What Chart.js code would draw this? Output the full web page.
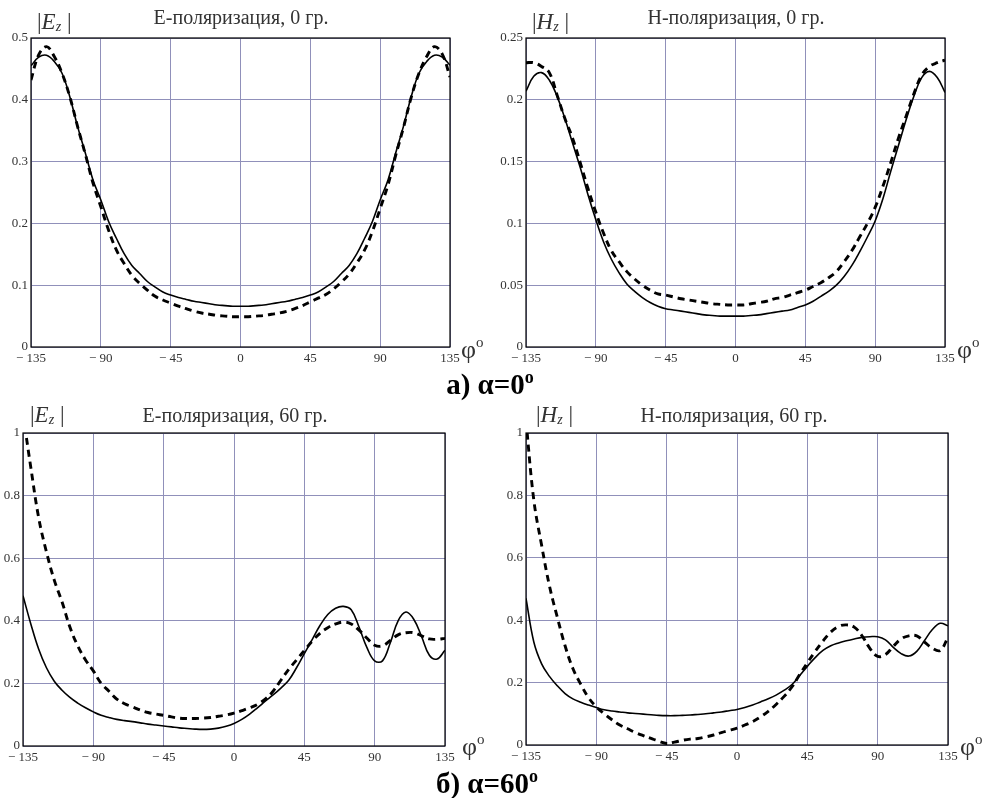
<!DOCTYPE html>
<html>
<head>
<meta charset="utf-8">
<script src="https://cdn.jsdelivr.net/npm/chart.js@4.4.0/dist/chart.umd.min.js"></script>
<style>
  body { margin: 0; background: #fff; width: 987px; height: 798px; position: relative; overflow: hidden;
         font-family: "Liberation Serif", "DejaVu Serif", serif; }
  .box { position: absolute; }
  .lbl { position: absolute; white-space: nowrap; color: #222; line-height: 1; }
  .ttl { font-size: 20px; transform: translateX(-50%); color: #333; }
  .qty { font-size: 23px; color: #333; }
  .qty i { font-style: italic; }
  .qty sub { font-size: 14px; vertical-align: -2px; }
  .phi { font-size: 26px; color: #333; }
  .phi sup { font-size: 15px; vertical-align: 11px; }
  .cap { font-size: 29px; font-weight: bold; color: #000; transform: translateX(-50%); }
  .cap sup { font-size: 18px; vertical-align: 11px; }
</style>
</head>
<body>

<div class="box" id="p1"><canvas id="c1"></canvas></div>
<div class="box" id="p2"><canvas id="c2"></canvas></div>
<div class="box" id="p3"><canvas id="c3"></canvas></div>
<div class="box" id="p4"><canvas id="c4"></canvas></div>

<div class="lbl ttl" style="left:241px; top:7px;">Е-поляризация, 0 гр.</div>
<div class="lbl ttl" style="left:736px; top:7px;">Н-поляризация, 0 гр.</div>
<div class="lbl ttl" style="left:235px; top:405px;">Е-поляризация, 60 гр.</div>
<div class="lbl ttl" style="left:734px; top:405px;">Н-поляризация, 60 гр.</div>

<div class="lbl qty" style="left:37px; top:10px;">|<i>E<sub>z</sub></i> |</div>
<div class="lbl qty" style="left:532px; top:10px;">|<i>H<sub>z</sub></i> |</div>
<div class="lbl qty" style="left:30px; top:403px;">|<i>E<sub>z</sub></i> |</div>
<div class="lbl qty" style="left:536px; top:403px;">|<i>H<sub>z</sub></i> |</div>

<div class="lbl phi" style="left:461px; top:335px;">φ<sup>o</sup></div>
<div class="lbl phi" style="left:957px; top:335px;">φ<sup>o</sup></div>
<div class="lbl phi" style="left:462px; top:732px;">φ<sup>o</sup></div>
<div class="lbl phi" style="left:960px; top:732px;">φ<sup>o</sup></div>

<div class="lbl cap" style="left:490px; top:368px;">а) α=0<sup>o</sup></div>
<div class="lbl cap" style="left:487px; top:767px;">б) α=60<sup>o</sup></div>

<script>
// Angles, degrees
const angles = [-135, -130, -125, -120, -115, -110, -105, -100, -95, -90, -85, -80, -75, -70,
  -65, -60, -55, -50, -45, -40, -35, -30, -25, -20, -15, -10, -5, 0, 5, 10, 15, 20, 25, 30,
  35, 40, 45, 50, 55, 60, 65, 70, 75, 80, 85, 90, 95, 100, 105, 110, 115, 120, 125, 130, 135];

const xTickLabels = ['\u2212 135', '\u2212 90', '\u2212 45', '0', '45', '90', '135'];

// E-polarization, 0 deg
const e0Solid = [0.455, 0.469, 0.472, 0.462, 0.443, 0.405, 0.357, 0.314, 0.27, 0.238, 0.203, 0.176, 0.151, 0.132,
  0.119, 0.106, 0.097, 0.089, 0.084, 0.08, 0.077, 0.074, 0.072, 0.07, 0.068, 0.067, 0.066, 0.066,
  0.066, 0.067, 0.068, 0.07, 0.072, 0.074, 0.077, 0.08, 0.084, 0.089, 0.097, 0.106, 0.119, 0.132,
  0.151, 0.176, 0.203, 0.238, 0.27, 0.314, 0.357, 0.405, 0.443, 0.462, 0.472, 0.469, 0.456];
const e0Dashed = [0.432, 0.473, 0.486, 0.47, 0.443, 0.405, 0.357, 0.312, 0.265, 0.227, 0.189, 0.157, 0.135, 0.116,
  0.103, 0.092, 0.082, 0.076, 0.071, 0.066, 0.062, 0.058, 0.055, 0.053, 0.051, 0.05, 0.049, 0.049,
  0.049, 0.05, 0.051, 0.053, 0.055, 0.058, 0.062, 0.067, 0.073, 0.079, 0.085, 0.094, 0.105, 0.118,
  0.136, 0.157, 0.187, 0.224, 0.262, 0.31, 0.355, 0.404, 0.443, 0.47, 0.486, 0.474, 0.437];
const e0Ticks = ['0', '0.1', '0.2', '0.3', '0.4', '0.5'];

// H-polarization, 0 deg
const h0Solid = [0.207, 0.219, 0.222, 0.216, 0.203, 0.185, 0.165, 0.145, 0.123, 0.103, 0.085, 0.071, 0.06, 0.051,
  0.045, 0.04, 0.036, 0.033, 0.031, 0.03, 0.029, 0.028, 0.027, 0.026, 0.0255, 0.025, 0.025, 0.025,
  0.025, 0.0255, 0.026, 0.027, 0.028, 0.029, 0.03, 0.032, 0.034, 0.037, 0.041, 0.045, 0.05, 0.057,
  0.066, 0.077, 0.089, 0.102, 0.12, 0.142, 0.163, 0.184, 0.203, 0.218, 0.223, 0.218, 0.206];
const h0Dashed = [0.23, 0.23, 0.227, 0.222, 0.204, 0.185, 0.169, 0.149, 0.128, 0.109, 0.092, 0.078, 0.069, 0.061,
  0.055, 0.05, 0.046, 0.043, 0.042, 0.0405, 0.039, 0.038, 0.037, 0.036, 0.035, 0.0345, 0.034, 0.034,
  0.034, 0.035, 0.036, 0.037, 0.039, 0.04, 0.042, 0.044, 0.046, 0.049, 0.052, 0.056, 0.061, 0.069,
  0.078, 0.089, 0.1, 0.113, 0.13, 0.149, 0.169, 0.187, 0.205, 0.22, 0.227, 0.23, 0.232];
const h0Ticks = ['0', '0.05', '0.1', '0.15', '0.2', '0.25'];

// E-polarization, 60 deg
const e60Solid = [0.48, 0.39, 0.31, 0.25, 0.207, 0.178, 0.155, 0.137, 0.122, 0.109, 0.098, 0.091, 0.085, 0.081,
  0.078, 0.074, 0.07, 0.067, 0.064, 0.061, 0.058, 0.056, 0.054, 0.053, 0.054, 0.057, 0.063, 0.072,
  0.085, 0.102, 0.122, 0.143, 0.163, 0.185, 0.21, 0.25, 0.295, 0.34, 0.385, 0.42, 0.44, 0.446,
  0.435, 0.38, 0.315, 0.272, 0.272, 0.33, 0.4, 0.428, 0.405, 0.35, 0.29, 0.278, 0.306];
const e60Dashed = [1.06, 0.89, 0.73, 0.62, 0.53, 0.46, 0.38, 0.32, 0.275, 0.24, 0.2, 0.175, 0.15, 0.135,
  0.125, 0.115, 0.107, 0.102, 0.098, 0.093, 0.089, 0.088, 0.088, 0.089, 0.091, 0.095, 0.099, 0.105,
  0.113, 0.122, 0.133, 0.15, 0.175, 0.21, 0.245, 0.275, 0.305, 0.335, 0.36, 0.378, 0.39, 0.396,
  0.39, 0.37, 0.345, 0.322, 0.32, 0.337, 0.355, 0.362, 0.362, 0.352, 0.342, 0.341, 0.344];
const e60Ticks = ['0', '0.2', '0.4', '0.6', '0.8', '1'];

// H-polarization, 60 deg
const h60Solid = [0.47, 0.33, 0.26, 0.22, 0.19, 0.165, 0.148, 0.137, 0.128, 0.12, 0.113, 0.109, 0.106, 0.103,
  0.101, 0.099, 0.097, 0.095, 0.094, 0.094, 0.095, 0.096, 0.098, 0.1, 0.103, 0.106, 0.11, 0.114,
  0.12, 0.128, 0.138, 0.148, 0.16, 0.175, 0.193, 0.222, 0.252, 0.28, 0.303, 0.318, 0.327, 0.334,
  0.34, 0.345, 0.347, 0.347, 0.337, 0.313, 0.293, 0.285, 0.3, 0.335, 0.37, 0.39, 0.382];
const h60Dashed = [1.04, 0.785, 0.64, 0.51, 0.41, 0.318, 0.245, 0.195, 0.152, 0.122, 0.1, 0.081, 0.064, 0.052,
  0.04, 0.03, 0.021, 0.012, 0.005, 0.009, 0.015, 0.019, 0.021, 0.026, 0.032, 0.04, 0.047, 0.054,
  0.064, 0.075, 0.09, 0.108, 0.13, 0.155, 0.185, 0.225, 0.263, 0.3, 0.333, 0.362, 0.38, 0.385,
  0.378, 0.35, 0.31, 0.284, 0.29, 0.316, 0.34, 0.35, 0.35, 0.33, 0.31, 0.303, 0.345];
const h60Ticks = ['0', '0.2', '0.4', '0.6', '0.8', '1'];

// Plot-area placement of each panel (page pixels)
const panels = [
  { id: 1, left: 31,  top: 38,  w: 419, h: 309, max: 0.5,  step: 0.1,  solid: e0Solid,  dashed: e0Dashed,  yTicks: e0Ticks },
  { id: 2, left: 526, top: 38,  w: 419, h: 309, max: 0.25, step: 0.05, solid: h0Solid,  dashed: h0Dashed,  yTicks: h0Ticks },
  { id: 3, left: 23,  top: 433, w: 422, h: 313, max: 1,    step: 0.2,  solid: e60Solid, dashed: e60Dashed, yTicks: e60Ticks },
  { id: 4, left: 526, top: 433, w: 422, h: 312, max: 1,    step: 0.2,  solid: h60Solid, dashed: h60Dashed, yTicks: h60Ticks }
];

const PAD_L = 40, PAD_T = 12, PAD_R = 16, PAD_B = 26;
const GRID = '#9090ba';
const TICK_FONT = { family: '"Liberation Serif", "DejaVu Serif", serif', size: 13 };

// black frame around the plot area
const framePlugin = {
  id: 'frame',
  afterDatasetsDraw(chart) {
    const a = chart.chartArea;
    const ctx = chart.ctx;
    ctx.save();
    ctx.strokeStyle = '#000';
    ctx.lineWidth = 1.2;
    ctx.strokeRect(a.left, a.top, a.right - a.left, a.bottom - a.top);
    ctx.restore();
  }
};

function toPoints(values) {
  return angles.map((a, i) => ({ x: a, y: values[i] }));
}

function buildPanel(p) {
  const box = document.getElementById('p' + p.id);
  const cw = p.w + PAD_L + PAD_R;
  const ch = p.h + PAD_T + PAD_B;
  box.style.left = (p.left - PAD_L) + 'px';
  box.style.top = (p.top - PAD_T) + 'px';
  box.style.width = cw + 'px';
  box.style.height = ch + 'px';
  const canvas = document.getElementById('c' + p.id);
  canvas.width = cw;
  canvas.height = ch;

  new Chart(canvas, {
    type: 'line',
    data: {
      datasets: [
        {
          data: toPoints(p.solid),
          borderColor: '#000',
          borderWidth: 1.6,
          pointRadius: 0,
          tension: 0.4,
          fill: false
        },
        {
          data: toPoints(p.dashed),
          borderColor: '#000',
          borderWidth: 2.9,
          borderDash: [7, 5],
          pointRadius: 0,
          tension: 0.4,
          fill: false
        }
      ]
    },
    options: {
      responsive: false,
      animation: false,
      layout: { padding: { top: PAD_T, right: PAD_R, left: 0, bottom: 0 } },
      plugins: { legend: { display: false }, tooltip: { enabled: false }, title: { display: false } },
      scales: {
        x: {
          type: 'linear',
          min: -135,
          max: 135,
          ticks: {
            stepSize: 45,
            color: '#333',
            font: TICK_FONT,
            padding: 4,
            maxRotation: 0,
            callback: (v, i) => xTickLabels[i]
          },
          grid: { color: GRID, lineWidth: 1, drawTicks: false },
          border: { display: false },
          afterFit: s => { s.height = PAD_B; }
        },
        y: {
          min: 0,
          max: p.max,
          ticks: {
            stepSize: p.step,
            color: '#333',
            font: TICK_FONT,
            padding: 3,
            callback: (v, i) => p.yTicks[i]
          },
          grid: { color: GRID, lineWidth: 1, drawTicks: false },
          border: { display: false },
          afterFit: s => { s.width = PAD_L; }
        }
      }
    },
    plugins: [framePlugin]
  });
}

panels.forEach(buildPanel);
</script>
</body>
</html>
